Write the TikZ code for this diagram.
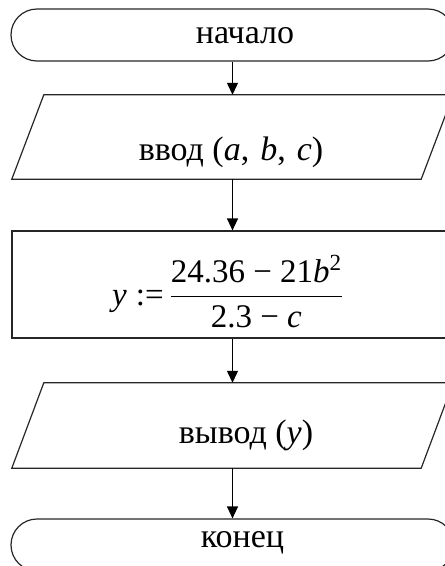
\documentclass[tikz,border=0pt]{standalone}
\usepackage{fix-cm}
\usepackage{amsmath}
\usepackage{fontspec}
\setmainfont{Liberation Serif}
\usetikzlibrary{arrows.meta,calc}
\tikzset{
  outline/.style={draw=black!85, line width=1.2pt},
  term/.style={outline, rounded corners=26pt, minimum width=443pt, minimum height=52pt, inner sep=0pt},
  frame/.style={inner sep=0pt, minimum width=441pt},
  proc/.style={outline, inner sep=0pt, minimum width=441pt, minimum height=107pt},
  lbl/.style={inner sep=0pt, anchor=base, font=\fontsize{34}{40}\selectfont},
  flow/.style={line width=1.2pt, -{Triangle[length=12pt,width=11pt]}},
}
\begin{document}
\begin{tikzpicture}[x=1pt,y=1pt]
\useasboundingbox (0,0) rectangle (445,-566);
\clip (0,0) rectangle (445,-566);

% blocks
\node[term] (start) at (232.5,-35) {};
\node[frame, minimum height=84pt] (in) at (232.5,-137) {};
\draw[outline] (in.south west) -- ($(in.south east)+(-32,0)$) -- (in.north east)
  -- ($(in.north west)+(32,0)$) -- cycle;
\node[proc] (calc) at (232.5,-284.5) {};
\node[frame, minimum height=85pt] (out) at (232.5,-425.5) {};
\draw[outline] (out.south west) -- ($(out.south east)+(-32,0)$) -- (out.north east)
  -- ($(out.north west)+(32,0)$) -- cycle;
\node[term] (stop) at (232.5,-545) {};

% labels
\node[lbl] (t1) at (245,-43) {начало};
\node[lbl] (t2) at (231,-160) {ввод (\textit{a},\hspace{11pt}\textit{b},\hspace{11pt}\textit{c})};
\node[lbl, anchor=base west, font=\fontsize{33}{40}\selectfont] (t3) at (112,-305)
  {\textit{y}\hspace{9pt}:=\hspace{6pt}$\displaystyle\frac{\text{24.36 − 21\textit{b}\textsuperscript{2}}}{\text{2.3 − \textit{c}}}$};
\node[lbl] (t4) at (246,-443) {вывод (\textit{y})};
\node[lbl] (t5) at (242.5,-547) {конец};

% connectors
\draw[flow] (start.south) -- (in.north);
\draw[flow] (in.south) -- (calc.north);
\draw[flow] (calc.south) -- (out.north);
\draw[flow] (out.south) -- (stop.north);
\end{tikzpicture}
\end{document}
